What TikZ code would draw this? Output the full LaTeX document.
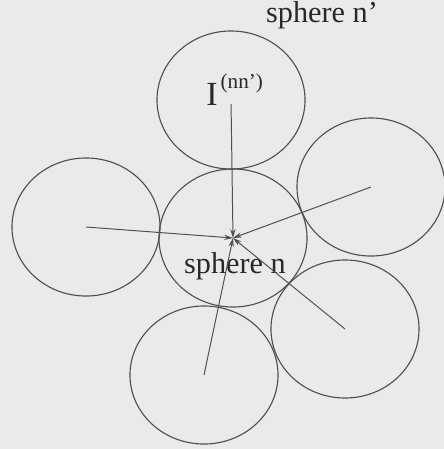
\documentclass[tikz,border=0pt]{standalone}
\usepackage{fontspec}
\setmainfont{Liberation Serif}
\usetikzlibrary{arrows.meta,shapes.geometric}
\definecolor{scanbg}{RGB}{234,234,234}
\definecolor{inkgray}{RGB}{80,80,80}
\definecolor{textgray}{RGB}{40,40,40}

\begin{document}
\begin{tikzpicture}[x=0.025cm,y=-0.025cm,
  sphere/.style={ellipse,draw=inkgray,line width=0.8pt,inner sep=0pt,minimum width=3.7cm,minimum height=3.45cm},
  bond/.style={draw=inkgray,line width=0.7pt,-{Stealth[open,length=2.2mm,width=1.3mm]}},
  lbl/.style={text=textgray,inner sep=0pt,font=\fontsize{21.5}{25}\selectfont}]
  \useasboundingbox (0,0) rectangle (444,449);
  \fill[scanbg] (0,0) rectangle (444,449);

  % spheres
  \node[sphere] (mid) at (233,238) {};
  \node[sphere] (top) at (231,100) {};
  \node[sphere] (right) at (371,187) {};
  \node[sphere] (left) at (86,227) {};
  \node[sphere] (lowright) at (345,329) {};
  \node[sphere] (bottom) at (204,375) {};

  % labels
  \node[lbl,anchor=base] (nprime) at (322,22) {sphere n'};
  \node[lbl,anchor=base] (nlabel) at (235,273) {sphere n};
  \node[text=textgray,inner sep=0pt,anchor=base west] (ilabel) at (206,105)
    {\fontsize{24}{27}\selectfont I\hspace{0.8mm}\raisebox{4mm}{\fontsize{15}{18}\selectfont(nn')}};

  % bonds towards sphere n
  \draw[bond,shorten <=3pt] (top.center) -- (mid.center);
  \draw[bond] (left.center) -- (mid.center);
  \draw[bond] (right.center) -- (mid.center);
  \draw[bond] (lowright.center) -- (mid.center);
  \draw[bond] (bottom.center) -- (mid.center);
\end{tikzpicture}
\end{document}
